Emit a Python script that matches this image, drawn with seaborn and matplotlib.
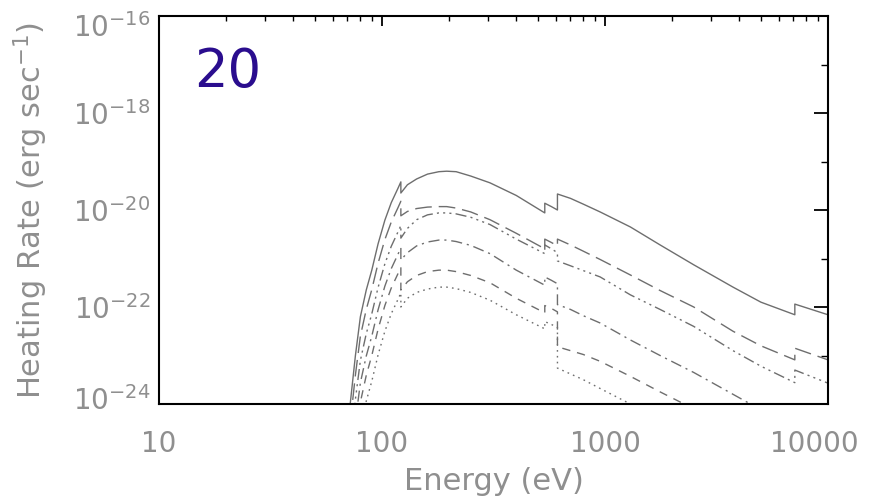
import numpy as np
import pandas as pd
import matplotlib
matplotlib.use("Agg")
import matplotlib.pyplot as plt
import matplotlib.ticker as mticker
from matplotlib.transforms import ScaledTranslation
import seaborn as sns

# photon energy grid (eV); repeated values are absorption edges
energy = [72, 76, 80, 85, 90, 96, 103, 110, 118, 121.5, 121.5, 130, 143, 160, 180,
          195, 215, 250, 305, 400, 537, 537, 575, 612, 612, 700, 800, 951, 1300,
          1766, 2500, 3750, 5000, 7100, 7100, 10000]

# log10 heating rate (erg/s)
solid = [-24.0, -23.0, -22.2, -21.65, -21.24, -20.7, -20.21, -19.85, -19.55, -19.42,
         -19.65, -19.48, -19.36, -19.26, -19.21, -19.2, -19.21, -19.3, -19.44, -19.7,
         -20.06, -19.86, -19.93, -20.0, -19.67, -19.76, -19.88, -20.04, -20.35, -20.72,
         -21.13, -21.59, -21.9, -22.16, -21.94, -22.16]
long_dash = [-24.4, -23.4, -22.6, -22.05, -21.64, -21.1, -20.61, -20.25, -19.95, -19.82,
             -20.12, -20.03, -19.97, -19.94, -19.93, -19.93, -19.96, -20.04, -20.2, -20.48,
             -20.8, -20.6, -20.67, -20.74, -20.6, -20.72, -20.85, -21.02, -21.34, -21.66,
             -22.0, -22.5, -22.8, -23.09, -22.85, -23.09]
dash_3dot = [-24.9, -23.9, -23.1, -22.55, -22.14, -21.6, -21.11, -20.75, -20.45, -20.32,
             -20.58, -20.38, -20.2, -20.1, -20.06, -20.06, -20.08, -20.15, -20.3, -20.6,
             -20.9, -20.72, -20.8, -20.88, -21.05, -21.15, -21.25, -21.38, -21.75, -22.05,
             -22.4, -22.9, -23.22, -23.56, -23.3, -23.57]
dash_dot = [-25.36, -24.36, -23.56, -23.01, -22.6, -22.06, -21.57, -21.21, -20.91, -20.78,
            -21.03, -20.88, -20.74, -20.66, -20.62, -20.62, -20.65, -20.73, -20.9, -21.24,
            -21.55, -21.38, -21.45, -21.52, -21.95, -22.05, -22.18, -22.33, -22.68, -23.0,
            -23.35, -23.8, -24.12, -24.5, -24.3, -24.6]
dashed = [-25.76, -24.76, -23.96, -23.41, -23.0, -22.46, -21.97, -21.61, -21.31, -21.18,
          -21.65, -21.48, -21.35, -21.27, -21.24, -21.24, -21.27, -21.35, -21.5, -21.82,
          -22.12, -21.97, -22.03, -22.1, -22.82, -22.9, -22.98, -23.12, -23.43, -23.75,
          -24.1, -24.5, -24.8, -25.2, -25.0, -25.3]
dotted = [-26.29, -25.29, -24.49, -23.94, -23.53, -22.99, -22.5, -22.14, -21.84, -21.71,
          -22.0, -21.82, -21.7, -21.63, -21.59, -21.59, -21.62, -21.7, -21.86, -22.16,
          -22.45, -22.3, -22.36, -22.42, -23.26, -23.38, -23.5, -23.68, -24.0, -24.3,
          -24.65, -25.1, -25.4, -25.8, -25.6, -25.9]

series = {"solid": solid, "long": long_dash, "dash3dot": dash_3dot,
          "dashdot": dash_dot, "dashed": dashed, "dotted": dotted}

frames = []
for name, vals in series.items():
    frames.append(pd.DataFrame({"energy": energy, "rate": 10.0 ** np.array(vals),
                                "curve": name, "order": np.arange(len(energy))}))
df = pd.concat(frames, ignore_index=True)

sns.set_style("white")
plt.rcParams["font.family"] = ["DejaVu Sans"]

fig = plt.figure(figsize=(8.79, 4.99), dpi=100)
ax = fig.add_axes([159 / 879, 1 - 404 / 499, (828 - 159) / 879, (404 - 16) / 499])

dash_map = {"solid": "", "long": (12, 5), "dash3dot": (8, 3, 1.5, 3, 1.5, 3, 1.5, 3),
            "dashdot": (8, 3.5, 1.5, 3.5), "dashed": (6, 5), "dotted": (1.2, 3)}
pal = {k: "#6e6e6e" for k in series}

sns.lineplot(data=df, x="energy", y="rate", hue="curve", style="curve",
             palette=pal, dashes=dash_map, estimator=None, sort=False,
             linewidth=1.0, legend=False, ax=ax)

ax.set_xscale("log")
ax.set_yscale("log")
ax.set_xlim(10, 10000)
ax.set_ylim(1e-24, 1e-16)

label_gray = "#8f8f8f"
ax.set_xticks([10, 100, 1000, 10000])
ax.set_xticklabels(["10", "100", "1000", "10000"])
ax.xaxis.set_minor_locator(mticker.LogLocator(base=10, subs=np.arange(2, 10)))
ax.xaxis.set_minor_formatter(mticker.NullFormatter())
ax.set_yticks([1e-24, 1e-22, 1e-20, 1e-18, 1e-16])
ax.set_yticklabels([r"$10^{-24}$", r"$10^{-22}$", r"$10^{-20}$", r"$10^{-18}$", r"$10^{-16}$"])
ax.set_yticks([1e-23, 1e-21, 1e-19, 1e-17], minor=True)
ax.yaxis.set_minor_formatter(mticker.NullFormatter())

ax.tick_params(axis="both", which="both", direction="in", top=True, right=True,
               color="black", labelcolor=label_gray, labelsize=20)
ax.tick_params(axis="x", which="major", length=7, width=1.3, pad=19)
ax.tick_params(axis="x", which="minor", length=3.5, width=1.0)
ax.tick_params(axis="y", which="major", length=10, width=1.3, pad=6)
ax.tick_params(axis="y", which="minor", length=5, width=1.0)
for s in ax.spines.values():
    s.set_color("black")
    s.set_linewidth(1.5)

# shift end labels inward like the original
xl = ax.get_xticklabels()
xl[-1].set_transform(xl[-1].get_transform() + ScaledTranslation(-14 / 100, 0, fig.dpi_scale_trans))
yl = ax.get_yticklabels()
yl[-1].set_transform(yl[-1].get_transform() + ScaledTranslation(0, -9 / 100, fig.dpi_scale_trans))
yl[0].set_transform(yl[0].get_transform() + ScaledTranslation(0, 6 / 100, fig.dpi_scale_trans))

ax.set_xlabel("Energy (eV)", fontsize=22, color=label_gray, labelpad=6)
ax.set_ylabel(r"Heating Rate (erg sec$^{-1}$)", fontsize=22, color=label_gray)
ax.yaxis.set_label_coords(-0.163, 0.5)

ax.text(0.052, 0.817, "20", transform=ax.transAxes, fontsize=38, color="#2a0d8e",
        ha="left", va="baseline")

fig.savefig("out.png", dpi=100)
